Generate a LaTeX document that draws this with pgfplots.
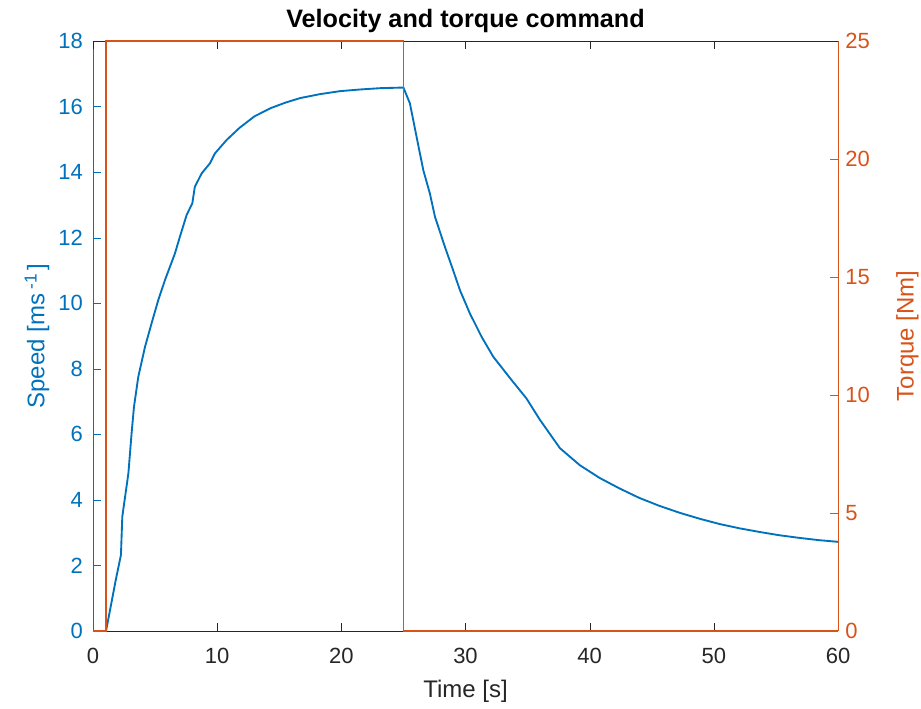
\documentclass[border=0pt]{standalone}
\usepackage{fontspec}
\setmainfont{Liberation Sans}
\usepackage{pgfplots}
\pgfplotsset{compat=1.18}
\definecolor{mblue}{RGB}{0,114,189}
\definecolor{morange}{RGB}{217,83,25}
\definecolor{mgray}{RGB}{38,38,38}
\begin{document}
\begin{tikzpicture}
\useasboundingbox (-69.75pt,-58.5pt) rectangle (621pt,473.25pt);
\pgfplotsset{
  every axis/.append style={
    scale only axis, width=558.75pt, height=442.5pt,
    at={(0,0)}, anchor=south west,
    xmin=0, xmax=60,
    font=\fontsize{16.5}{19}\selectfont,
    /pgf/number format/assume math mode=true,
    tick align=inside,
    major tick length=6pt,
    clip=false,
  }
}
\begin{axis}[
  ymin=0, ymax=18,
  axis y line*=left,
  axis x line*=bottom,
  xtick={0,10,20,30,40,50,60},
  ytick={0,2,4,6,8,10,12,14,16,18},
  x axis line style={mgray},
  y axis line style={mblue},
  y tick label style={mblue, xshift=-4pt},
  x tick label style={mgray, yshift=-9pt},
  xtick style={mgray},
  ytick style={mblue},
  xlabel={Time [s]},
  xlabel style={mgray, font=\fontsize{18}{21}\selectfont, yshift=-6pt},
  ylabel={Speed [ms\,\raisebox{0.6ex}{\fontsize{13}{14}\selectfont -1}\,]},
  ylabel style={mblue, font=\fontsize{18}{21}\selectfont, yshift=0pt},
  title={\bfseries Velocity and torque command},
  title style={black, yshift=-3pt, font=\fontsize{18.9}{22}\selectfont},
]
\addplot[mblue, line width=1.4pt] coordinates {
(1.05,0) (1.83,1.55) (2.25,2.32) (2.36,3.49) (2.85,4.81) (3.11,6.04) (3.3,6.84)
(3.65,7.76) (4.19,8.67) (4.72,9.39) (5.26,10.1) (5.8,10.71) (6.6,11.52) (7.0,12.03)
(7.54,12.69) (8.0,13.05) (8.2,13.55) (8.75,13.96) (9.42,14.27) (9.82,14.57) (10.76,14.98)
(11.8,15.35) (13.0,15.7) (14.3,15.95)
(15.5,16.12) (16.7,16.26) (18.3,16.38) (19.9,16.47) (21.5,16.52) (23.1,16.56) (25.0,16.58)
(25.52,16.1) (26.06,15.08) (26.6,14.06) (27.13,13.35) (27.54,12.64) (28.34,11.72)
(29.0,11.01) (29.55,10.4) (30.35,9.69) (31.29,8.98) (32.23,8.37) (33.7,7.66) (34.9,7.1)
(36.0,6.44) (37.6,5.58) (39.2,5.06) (40.8,4.67) (42.4,4.35) (44.0,4.06) (45.6,3.82) (47.3,3.6)
(48.9,3.42) (50.5,3.26) (52.1,3.13) (53.7,3.02) (55.3,2.92) (56.9,2.84) (58.5,2.77) (60,2.72)
};
\end{axis}
\begin{axis}[
  ymin=0, ymax=25,
  axis y line*=right,
  axis x line*=top,
  xticklabels={},
  xtick={0,10,20,30,40,50,60},
  xtick style={mgray},
  x axis line style={mgray},
  ytick={0,5,10,15,20,25},
  y axis line style={morange},
  y tick label style={morange, xshift=2pt},
  ytick style={morange},
  ylabel={Torque [Nm]},
  ylabel style={morange, font=\fontsize{18}{21}\selectfont, yshift=-13pt},
]
\addplot[morange, line width=1.1pt] coordinates {
(0,0) (1.05,0) (1.05,25) (25.02,25) (25.02,0) (60,0)
};
\end{axis}
\end{tikzpicture}
\end{document}
